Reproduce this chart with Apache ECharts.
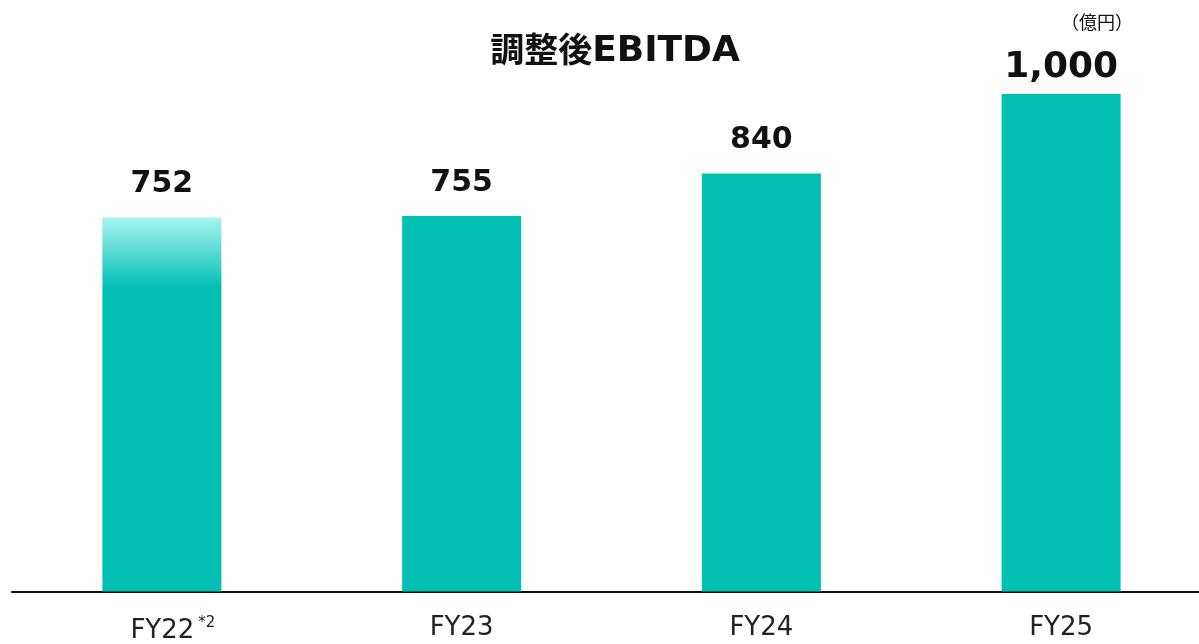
<!DOCTYPE html>
<html><head><meta charset="utf-8">
<script src="https://cdn.jsdelivr.net/npm/echarts@6/dist/echarts.min.js"></script>
<style>html,body{margin:0;padding:0;background:#fff;overflow:hidden}#wrap{width:1199px;height:644px;overflow:hidden;position:relative}#c{width:1211px;height:644px}</style>
</head><body><div id="wrap"><div id="c"></div></div>
<script>
const categories = ['FY22', 'FY23', 'FY24', 'FY25'];
const values = [752, 755, 840, 1000];
const valueLabels = ['752', '755', '840', '1,000'];
const titleCJK = '調整後';
const titleLatin = 'EBITDA';
const unit = '（億円）';

const chart = echarts.init(document.getElementById('c'));
const base = '#00BFB3';
const data = values.map((v, i) => {
  const d = { value: v, label: { formatter: valueLabels[i] } };
  if (i === 0) {
    d.itemStyle = { color: new echarts.graphic.LinearGradient(0, 0, 0, 1, [
      { offset: 0, color: '#A8F5EF' },
      { offset: 0.19, color: base },
      { offset: 1, color: base }
    ]) };
  }
  if (i === 3) { d.label.fontSize = 36; d.label.distance = 8; }
  return d;
});
chart.setOption({
  animation: false,
  title: [
    { text: '{c|' + titleCJK + '}{l|' + titleLatin + '}', left: 610, top: 27, textAlign: 'center',
      textStyle: { rich: {
        c: { fontFamily: 'Noto Sans CJK JP', fontWeight: 'bold', fontSize: 34, lineHeight: 40, color: '#111', verticalAlign: 'middle', padding: [0, 0, 5, 0] },
        l: { fontFamily: 'DejaVu Sans', fontWeight: 'bold', fontSize: 36, lineHeight: 40, color: '#111', verticalAlign: 'middle' }
      } } },
    { text: unit, left: 1092, top: 8, textAlign: 'center',
      textStyle: { fontFamily: 'Noto Sans CJK JP', fontWeight: 'normal', fontSize: 18, color: '#111' } }
  ],
  grid: { left: 12, right: 0, top: 94, height: 500, containLabel: false },
  xAxis: {
    type: 'category', data: categories,
    axisLine: { lineStyle: { color: '#111', width: 2 } },
    axisTick: { show: false },
    axisLabel: {
      margin: 24, color: '#222',
      formatter: (v, i) => i === 0 ? '{b|' + v + '}{s|*2}' : '{a|' + v + '}',
      rich: {
        a: { fontSize: 26, color: '#222', fontFamily: 'DejaVu Sans' },
        b: { fontSize: 26, color: '#222', fontFamily: 'DejaVu Sans', padding: [0, 0, 0, 22] },
        s: { fontSize: 15, color: '#222', fontFamily: 'DejaVu Sans', verticalAlign: 'top', padding: [0, 0, 16, 4] }
      }
    }
  },
  yAxis: { type: 'value', min: 0, max: 1000, show: false, splitLine: { show: false } },
  series: [{
    type: 'bar', data: data, barWidth: 119,
    itemStyle: { color: base },
    label: { show: true, position: 'top', distance: 18, fontFamily: 'DejaVu Sans', fontWeight: 'bold', fontSize: 30, color: '#111' }
  }]
});
</script></body></html>
